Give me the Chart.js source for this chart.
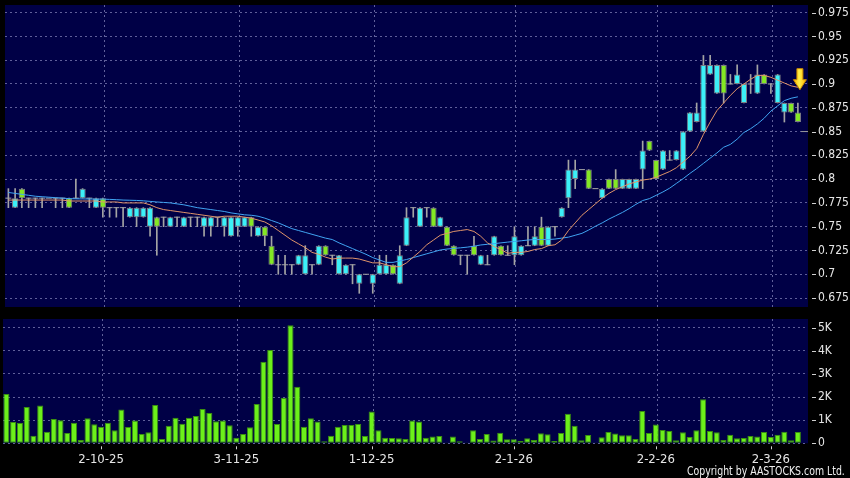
<!DOCTYPE html>
<html>
<head>
<meta charset="utf-8">
<script src="https://cdn.jsdelivr.net/npm/chart.js@4.4.1/dist/chart.umd.min.js"></script>
<style>
html,body{margin:0;padding:0;background:#000;}
#wrap{position:relative;width:850px;height:478px;overflow:hidden;background:#000;}
#priceCv{position:absolute;left:0;top:0;}
#volCv{position:absolute;left:0;top:312px;}
#copy{position:absolute;right:5px;top:464px;color:#f0f0f0;font:12px 'DejaVu Sans Condensed','DejaVu Sans',sans-serif;white-space:nowrap;transform-origin:100% 50%;}
</style>
</head>
<body>
<div id="wrap">
  <canvas id="priceCv" width="850" height="312"></canvas>
  <canvas id="volCv" width="850" height="166"></canvas>
  <div id="copy">Copyright by AASTOCKS.com Ltd.</div>
</div>
<script>
// daily bars, one slot per trading day (plus one empty slot on the right)
const slotCount = 119;
const tickIndex = [14, 34, 54, 75, 96, 113];
const tickLabels = ['2-10-25', '3-11-25', '1-12-25', '2-1-26', '2-2-26', '2-3-26'];

const opens = [0.78,0.77,0.79,0.78,0.78,0.78,0.78,0.78,0.78,0.78,
  0.78,0.78,0.78,0.77,0.78,0.77,0.77,0.77,0.76,0.76,
  0.76,0.75,0.76,0.76,0.75,0.76,0.75,0.76,0.76,0.75,
  0.75,0.76,0.75,0.74,0.75,0.75,0.76,0.74,0.75,0.73,
  0.71,0.71,0.71,0.71,0.70,0.71,0.71,0.73,0.72,0.70,
  0.70,0.71,0.69,0.70,0.69,0.70,0.70,0.71,0.69,0.73,
  0.77,0.75,0.77,0.77,0.75,0.75,0.73,0.72,0.72,0.73,
  0.71,0.71,0.72,0.73,0.72,0.72,0.72,0.73,0.73,0.75,
  0.73,0.75,0.76,0.78,0.80,0.81,0.81,0.79,0.78,0.80,
  0.80,0.79,0.79,0.79,0.81,0.84,0.82,0.81,0.82,0.82,
  0.81,0.85,0.86,0.85,0.91,0.89,0.92,0.90,0.90,0.88,
  0.90,0.89,0.91,0.90,0.88,0.87,0.88,0.87];
const highs = [0.79,0.79,0.79,0.78,0.78,0.78,0.78,0.78,0.78,0.78,
  0.80,0.79,0.78,0.78,0.78,0.77,0.77,0.77,0.77,0.77,
  0.77,0.77,0.76,0.76,0.76,0.76,0.76,0.76,0.76,0.76,
  0.76,0.76,0.76,0.76,0.76,0.76,0.76,0.75,0.75,0.74,
  0.72,0.72,0.71,0.72,0.73,0.71,0.73,0.73,0.72,0.72,
  0.71,0.71,0.70,0.70,0.70,0.72,0.72,0.71,0.73,0.77,
  0.77,0.77,0.77,0.77,0.76,0.75,0.73,0.72,0.72,0.74,
  0.72,0.72,0.74,0.73,0.73,0.75,0.73,0.75,0.75,0.76,
  0.75,0.75,0.77,0.82,0.82,0.81,0.81,0.79,0.79,0.80,
  0.81,0.80,0.80,0.80,0.84,0.84,0.82,0.83,0.83,0.83,
  0.85,0.87,0.88,0.93,0.93,0.92,0.92,0.91,0.92,0.90,
  0.91,0.92,0.91,0.90,0.91,0.88,0.88,0.88];
const lows = [0.77,0.77,0.77,0.77,0.77,0.77,0.78,0.77,0.77,0.77,
  0.78,0.78,0.77,0.77,0.76,0.76,0.76,0.75,0.76,0.75,
  0.76,0.74,0.72,0.75,0.75,0.75,0.75,0.75,0.75,0.74,
  0.74,0.75,0.74,0.74,0.74,0.75,0.74,0.74,0.73,0.71,
  0.70,0.70,0.70,0.71,0.70,0.70,0.71,0.72,0.71,0.70,
  0.70,0.69,0.68,0.70,0.68,0.70,0.70,0.70,0.69,0.73,
  0.76,0.75,0.76,0.75,0.75,0.73,0.72,0.71,0.70,0.72,
  0.71,0.71,0.72,0.72,0.72,0.71,0.72,0.73,0.73,0.73,
  0.73,0.74,0.76,0.77,0.79,0.81,0.79,0.79,0.78,0.79,
  0.79,0.79,0.79,0.79,0.79,0.83,0.80,0.81,0.82,0.82,
  0.81,0.85,0.86,0.85,0.91,0.89,0.88,0.90,0.90,0.88,
  0.89,0.89,0.90,0.89,0.88,0.86,0.87,0.86];
const closes = [0.78,0.78,0.78,0.78,0.78,0.78,0.78,0.78,0.78,0.77,
  0.78,0.79,0.78,0.78,0.77,0.77,0.77,0.77,0.77,0.77,
  0.77,0.77,0.75,0.76,0.76,0.76,0.76,0.76,0.76,0.76,
  0.76,0.76,0.76,0.76,0.76,0.76,0.75,0.75,0.74,0.71,
  0.71,0.71,0.71,0.72,0.72,0.71,0.73,0.72,0.72,0.72,
  0.71,0.71,0.70,0.70,0.70,0.71,0.71,0.70,0.72,0.76,
  0.77,0.77,0.77,0.75,0.76,0.73,0.72,0.72,0.72,0.72,
  0.72,0.71,0.74,0.72,0.72,0.74,0.73,0.73,0.74,0.73,
  0.75,0.75,0.77,0.81,0.81,0.81,0.79,0.79,0.79,0.79,
  0.79,0.80,0.80,0.80,0.83,0.83,0.80,0.83,0.82,0.83,
  0.85,0.87,0.87,0.92,0.92,0.92,0.89,0.90,0.91,0.90,
  0.90,0.91,0.90,0.90,0.91,0.88,0.87,0.86];

// moving averages (orange = 10 day, blue = 20 day)
const ma10 = [0.778,0.778,0.778,0.778,0.778,0.778,0.778,0.778,0.778,0.777,
  0.777,0.777,0.777,0.777,0.776,0.776,0.776,0.775,0.775,0.775,
  0.775,0.773,0.770,0.768,0.767,0.766,0.765,0.764,0.763,0.762,
  0.761,0.760,0.761,0.761,0.761,0.760,0.759,0.757,0.755,0.751,
  0.746,0.741,0.736,0.732,0.728,0.723,0.721,0.718,0.716,0.717,
  0.717,0.717,0.716,0.714,0.712,0.712,0.710,0.708,0.708,0.712,
  0.718,0.724,0.731,0.736,0.741,0.743,0.745,0.746,0.747,0.745,
  0.740,0.733,0.729,0.726,0.722,0.723,0.723,0.724,0.726,0.727,
  0.730,0.731,0.736,0.746,0.754,0.762,0.768,0.774,0.780,0.785,
  0.789,0.792,0.795,0.797,0.799,0.800,0.802,0.805,0.808,0.812,
  0.818,0.824,0.832,0.847,0.860,0.872,0.880,0.888,0.895,0.900,
  0.905,0.909,0.909,0.907,0.904,0.901,0.898,0.8965];
const ma20 = [0.786,0.785,0.784,0.783,0.782,0.7815,0.781,0.7805,0.780,0.7795,
  0.7793,0.7792,0.7791,0.779,0.779,0.7787,0.7784,0.778,0.7778,0.7776,
  0.7772,0.7766,0.776,0.7755,0.775,0.774,0.773,0.7715,0.770,0.769,
  0.768,0.767,0.766,0.7645,0.7635,0.7625,0.762,0.761,0.759,0.7565,
  0.754,0.751,0.748,0.746,0.744,0.742,0.740,0.738,0.7365,0.733,
  0.730,0.727,0.724,0.721,0.7175,0.715,0.7125,0.7125,0.714,0.7155,
  0.7175,0.7195,0.7215,0.7235,0.7255,0.7265,0.7272,0.7278,0.7285,0.7295,
  0.7308,0.7315,0.7322,0.733,0.7338,0.7345,0.7352,0.736,0.7365,0.7365,
  0.7365,0.737,0.738,0.739,0.741,0.743,0.7465,0.7505,0.754,0.758,
  0.7615,0.765,0.769,0.7735,0.7775,0.7795,0.783,0.7865,0.7905,0.7955,
  0.8005,0.806,0.811,0.8165,0.822,0.8275,0.8335,0.8365,0.842,0.849,
  0.853,0.858,0.864,0.8715,0.877,0.8825,0.885,0.8865];

// volume, thousands
const volK = [2.13,0.92,0.88,1.57,0.33,1.63,0.5,1.05,1.0,0.45,
  0.89,0.14,1.08,0.82,0.72,0.89,0.56,1.46,0.7,0.99,
  0.4,0.48,1.66,0.19,0.76,1.1,0.85,1.1,1.18,1.48,
  1.31,0.95,0.99,0.78,0.24,0.4,0.69,1.7,3.53,4.03,
  0.84,1.97,5.11,2.45,0.72,1.08,0.94,0.09,0.33,0.72,
  0.79,0.79,0.84,0.32,1.38,0.56,0.24,0.23,0.22,0.19,
  0.99,0.94,0.24,0.29,0.32,0.04,0.29,0.09,0.01,0.56,
  0.19,0.4,0.12,0.46,0.17,0.17,0.1,0.22,0.14,0.43,
  0.39,0.1,0.45,1.28,0.76,0.13,0.36,0.03,0.26,0.49,
  0.42,0.35,0.35,0.19,1.4,0.45,0.81,0.58,0.53,0.13,
  0.48,0.27,0.56,1.9,0.53,0.48,0.14,0.37,0.22,0.23,
  0.32,0.29,0.49,0.27,0.37,0.5,0.13,0.49];

const priceTicks = [0.675,0.7,0.725,0.75,0.775,0.8,0.825,0.85,0.875,0.9,0.925,0.95,0.975];
const volTicks = [0,1,2,3,4,5];
const volTickLabels = ['0','1K','2K','3K','4K','5K'];

// the small grey mark in the empty slot and the yellow arrow
const lastMark = { index: 118, price: 0.85 };
const arrowAt = { index: 117.3, price: 0.894 };

// colours / fonts
const NAVY = '#000046';
const GRID = '#60609a';
const TXT = '#e6e6e6';
const CYAN = '#3cf0f8';
const LIME = '#84e824';
const EDGE = '#7c7c84';
const WICK = '#a4a4a4';
const VOL = '#6cf01a';
const VOLEDGE = '#3a9010';
const FONT = "'DejaVu Sans Condensed','DejaVu Sans',sans-serif";

const labels = Array.from({length: slotCount}, () => '');
tickIndex.forEach((k, j) => { labels[k] = tickLabels[j]; });

const bodies = opens.map((o, i) => o === closes[i] ? null : [o, closes[i]]);
const bodyColors = opens.map((o, i) => closes[i] > o ? CYAN : LIME);
const wicks = lows.map((l, i) => highs[i] > l ? [l, highs[i]] : null);
const dojis = opens.map((o, i) => o === closes[i] ? o : null);
const markData = labels.map((_, i) => i === lastMark.index ? lastMark.price : null);

// plugins
const panelBg = {
  id: 'panelBg',
  beforeDraw(chart) {
    const {ctx, chartArea: a} = chart;
    ctx.save();
    ctx.fillStyle = NAVY;
    ctx.fillRect(a.left, a.top, a.right - a.left, a.bottom - a.top);
    ctx.restore();
  }
};
const dateGrid = {
  id: 'dateGrid',
  beforeDatasetsDraw(chart) {
    const {ctx, chartArea: a, scales: {x}} = chart;
    ctx.save();
    ctx.strokeStyle = GRID;
    ctx.lineWidth = 1;
    ctx.setLineDash([2, 3]);
    tickIndex.forEach(k => {
      const px = Math.round(x.getPixelForValue(k) + 1) + 0.5;
      ctx.beginPath(); ctx.moveTo(px, a.top); ctx.lineTo(px, a.bottom); ctx.stroke();
    });
    ctx.restore();
  }
};
const axisDashes = {
  id: 'axisDashes',
  afterDraw(chart) {
    const {ctx, chartArea: a, scales: {y}} = chart;
    ctx.save();
    ctx.strokeStyle = '#cfcfcf';
    ctx.lineWidth = 1;
    y.ticks.forEach((t, i) => {
      const py = Math.round(y.getPixelForTick(i)) + 0.5;
      ctx.beginPath(); ctx.moveTo(a.right + 4, py); ctx.lineTo(a.right + 8, py); ctx.stroke();
    });
    ctx.restore();
  }
};
const dateMarks = {
  id: 'dateMarks',
  afterDraw(chart) {
    const {ctx, chartArea: a, scales: {x}} = chart;
    ctx.save();
    ctx.strokeStyle = '#cfcfcf';
    ctx.lineWidth = 1;
    tickIndex.forEach(k => {
      const px = Math.round(x.getPixelForValue(k)) + 0.5;
      ctx.beginPath(); ctx.moveTo(px, a.bottom + 3); ctx.lineTo(px, a.bottom + 6); ctx.stroke();
    });
    ctx.restore();
  }
};
const signalArrow = {
  id: 'signalArrow',
  afterDatasetsDraw(chart) {
    const {ctx, scales: {x, y}} = chart;
    const tx = x.getPixelForValue(arrowAt.index);
    const ty = y.getPixelForValue(arrowAt.price);
    ctx.save();
    const g = ctx.createLinearGradient(tx - 6, 0, tx + 6, 0);
    g.addColorStop(0, '#ffb400');
    g.addColorStop(0.45, '#fff04a');
    g.addColorStop(1, '#ffb000');
    ctx.fillStyle = g;
    ctx.strokeStyle = '#c98a00';
    ctx.lineWidth = 1;
    ctx.beginPath();
    ctx.moveTo(tx - 3, ty - 21);
    ctx.lineTo(tx + 3, ty - 21);
    ctx.lineTo(tx + 3, ty - 10);
    ctx.lineTo(tx + 6.5, ty - 10);
    ctx.lineTo(tx, ty);
    ctx.lineTo(tx - 6.5, ty - 10);
    ctx.lineTo(tx - 3, ty - 10);
    ctx.closePath();
    ctx.fill();
    ctx.stroke();
    ctx.restore();
  }
};

// fixed axis sizes, and no automatic room for the end labels
const yFit = s => { s.width = 42; s.paddingTop = 0; s.paddingBottom = 0; };
const xFit = h => s => { s.height = h; s.paddingLeft = 0; s.paddingRight = 0; };

// price panel
new Chart(document.getElementById('priceCv'), {
  type: 'bar',
  data: {
    labels,
    datasets: [
      { type: 'line', data: ma10, borderColor: '#e0946a', borderWidth: 1, pointRadius: 0, tension: 0, order: 0 },
      { type: 'line', data: ma20, borderColor: '#40a4f2', borderWidth: 1, pointRadius: 0, tension: 0, order: 0 },
      { data: bodies, backgroundColor: bodyColors, borderColor: EDGE, borderWidth: 1, borderSkipped: false,
        grouped: false, categoryPercentage: 1, barPercentage: 0.92, order: 1 },
      { type: 'line', data: dojis, showLine: false, pointStyle: 'line', pointRadius: 3, pointBorderColor: WICK,
        pointBorderWidth: 1, order: 2 },
      { type: 'line', data: markData, showLine: false, pointStyle: 'line', pointRadius: 3.4, pointBorderColor: '#9a9a9a',
        pointBorderWidth: 1, order: 2 },
      { data: wicks, backgroundColor: WICK, barThickness: 1, grouped: false, order: 3 }
    ]
  },
  options: {
    responsive: false,
    animation: false,
    events: [],
    layout: { padding: { left: 3, right: 0, top: 4, bottom: 4 } },
    plugins: { legend: { display: false }, tooltip: { enabled: false } },
    scales: {
      x: { display: false, offset: true },
      y: {
        position: 'right', min: 0.6656, max: 0.983,
        afterBuildTicks: s => { s.ticks = priceTicks.map(v => ({ value: v })); },
        afterFit: yFit,
        grid: { color: GRID, drawTicks: false },
        border: { display: false, dash: [2, 3] },
        ticks: { color: TXT, padding: 10, font: { family: FONT, size: 12 }, callback: v => String(v) }
      }
    }
  },
  plugins: [panelBg, dateGrid, axisDashes, signalArrow]
});

// volume panel
new Chart(document.getElementById('volCv'), {
  type: 'bar',
  data: {
    labels,
    datasets: [
      { data: volK, backgroundColor: VOL, borderColor: VOLEDGE, borderWidth: 1, borderSkipped: false,
        categoryPercentage: 1, barPercentage: 0.9 }
    ]
  },
  options: {
    responsive: false,
    animation: false,
    events: [],
    layout: { padding: { left: 3, right: 0, top: 7, bottom: 0 } },
    plugins: { legend: { display: false }, tooltip: { enabled: false } },
    scales: {
      x: {
        offset: true,
        afterFit: xFit(34.7),
        grid: { display: false, drawTicks: true, tickLength: 6 },
        border: { display: false },
        ticks: { autoSkip: false, maxRotation: 0, minRotation: 0, padding: 3, color: TXT, font: { family: FONT, size: 13 } }
      },
      y: {
        position: 'right', min: 0, max: 5.376,
        afterBuildTicks: s => { s.ticks = volTicks.map(v => ({ value: v })); },
        afterFit: yFit,
        grid: { color: GRID, drawTicks: false },
        border: { display: false, dash: [2, 3] },
        ticks: { color: TXT, padding: 10, font: { family: FONT, size: 12 }, callback: (v, i) => volTickLabels[i] }
      }
    }
  },
  plugins: [panelBg, dateGrid, axisDashes, dateMarks]
});

// squeeze the copyright line to the narrow width it has in the original
const copyEl = document.getElementById('copy');
copyEl.style.transform = 'scaleX(' + (158 / copyEl.offsetWidth).toFixed(3) + ')';
</script>
</body>
</html>
